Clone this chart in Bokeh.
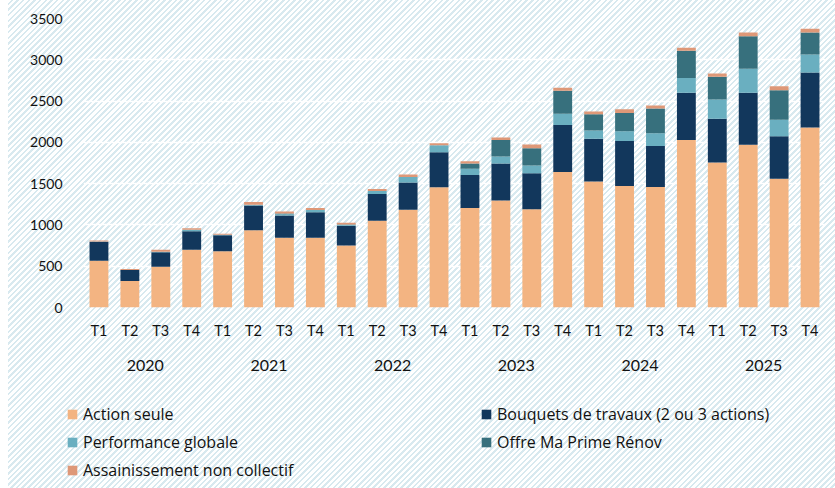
from bokeh.plotting import figure
from bokeh.models import (ColumnDataSource, FactorRange, Range1d, CategoricalAxis,
                          Legend, LegendItem, FixedTicker)
from bokeh.embed import file_html
from bokeh.resources import INLINE

years = ["2020", "2021", "2022", "2023", "2024", "2025"]
quarters = ["T1", "T2", "T3", "T4"]
series_names = ["Action seule", "Bouquets de travaux (2 ou 3 actions)", "Performance globale",
                "Offre Ma Prime Rénov", "Assainissement non collectif"]
action_seule = [565, 320, 495, 700, 680, 935, 845, 845, 750, 1050, 1185, 1455,
                1205, 1295, 1190, 1640, 1525, 1470, 1460, 2030, 1755, 1970, 1560, 2180]
bouquets = [230, 135, 175, 222, 195, 300, 268, 310, 240, 325, 330, 425,
            400, 450, 435, 570, 520, 545, 495, 570, 530, 630, 515, 665]
performance = [5, 0, 5, 20, 5, 10, 15, 25, 10, 35, 65, 85,
               75, 85, 95, 135, 100, 120, 155, 180, 235, 290, 200, 220]
offre = [0, 0, 0, 0, 0, 0, 10, 0, 5, 0, 0, 0,
         65, 200, 210, 280, 195, 220, 300, 330, 275, 395, 355, 265]
assainissement = [12, 10, 25, 18, 12, 32, 25, 25, 20, 25, 30, 25,
                  25, 30, 45, 35, 35, 45, 35, 35, 40, 45, 50, 45]
y_ticks = [0, 500, 1000, 1500, 2000, 2500, 3000, 3500]

colors = ["#F3B482", "#12375C", "#6AAFC0", "#37707D", "#DE9878"]
keys = ["action", "bouquets", "performance", "offre", "assain"]

factors = [(y, q) for y in years for q in quarters]
source = ColumnDataSource(dict(x=factors, action=action_seule, bouquets=bouquets,
                               performance=performance, offre=offre, assain=assainissement))

FONT = "Lato"
LEG_FONT = "Open Sans"
TXT = "#111111"
W = 827
H = 488
LEG_TOP = 390
LEG_H = 98

p = figure(width=W, height=H,
           x_range=FactorRange(*factors, group_padding=0, range_padding=0, factor_padding=0),
           y_range=Range1d(0, 3500),
           output_backend="svg", toolbar_location=None,
           min_border_left=75, min_border_right=10, min_border_top=18, min_border_bottom=181)
p.background_fill_alpha = 0
p.border_fill_alpha = 0
p.outline_line_color = None
p.styles = {
    "margin-left": "8px",
    "background-image": "repeating-linear-gradient(135deg, #ffffff 0px, #ffffff 2.2px, #d8e9ef 2.2px, #d8e9ef 4px)",
}

renderers = p.vbar_stack(keys, x="x", width=0.61, color=colors, source=source, line_color=None)

# grid
p.xgrid.grid_line_color = None
p.ygrid.grid_line_color = "white"
p.ygrid.grid_line_width = 1.5
p.ygrid.ticker = FixedTicker(ticks=y_ticks)

# y axis
ya = p.yaxis[0]
ya.ticker = FixedTicker(ticks=y_ticks)
ya.axis_line_color = None
ya.major_tick_line_color = None
ya.minor_tick_line_color = None
ya.major_label_standoff = 15
ya.major_label_text_font = FONT
ya.major_label_text_font_size = "14px"
ya.major_label_text_color = TXT

# x axis (quarters)
xa = p.xaxis[0]
xa.axis_line_color = None
xa.major_tick_line_color = None
xa.minor_tick_line_color = None
xa.major_label_standoff = 8
xa.major_label_text_font = FONT
xa.major_label_text_font_size = "14.5px"
xa.major_label_text_color = TXT
xa.group_text_font_size = "12px"
xa.group_text_color = None
xa.separator_line_color = None

# year axis
p.extra_x_ranges = {"years": FactorRange(*years, range_padding=0, factor_padding=0)}
yr = CategoricalAxis(x_range_name="years")
yr.axis_line_color = None
yr.major_tick_line_color = None
yr.minor_tick_line_color = None
yr.major_label_standoff = 12
yr.major_label_text_font = FONT
yr.major_label_text_font_size = "16px"
yr.major_label_text_color = TXT
yr.separator_line_color = None
p.add_layout(yr, "below")

# legend overlay (separate transparent figure placed over the bottom band)
p2 = figure(width=W, height=LEG_H, x_range=Range1d(0, 1), y_range=Range1d(0, 1),
            x_axis_type=None, y_axis_type=None,
            output_backend="svg", toolbar_location=None,
            min_border_left=0, min_border_right=0, min_border_top=0, min_border_bottom=0)
p2.background_fill_alpha = 0
p2.border_fill_alpha = 0
p2.outline_line_color = None
p2.styles = {"position": "absolute", "left": "8px", "top": f"{LEG_TOP}px"}
# swatch renderers for the legend only (placed outside the visible range)
swatches = [p2.vbar(x=[5], top=[1], width=0.5, color=c, line_color=None) for c in colors]

legend = Legend(items=[LegendItem(label=series_names[i], renderers=[swatches[i]]) for i in range(5)],
                location=(58, 7), orientation="horizontal", ncols=2,
                glyph_width=12, glyph_height=12, label_standoff=5, label_width=391,
                label_height=20, spacing=6, padding=5, margin=0,
                border_line_color=None, background_fill_alpha=0,
                label_text_font=LEG_FONT, label_text_font_size="16px", label_text_color=TXT)
p2.add_layout(legend, "center")

open("out.html", "w").write(file_html([p, p2], INLINE))
